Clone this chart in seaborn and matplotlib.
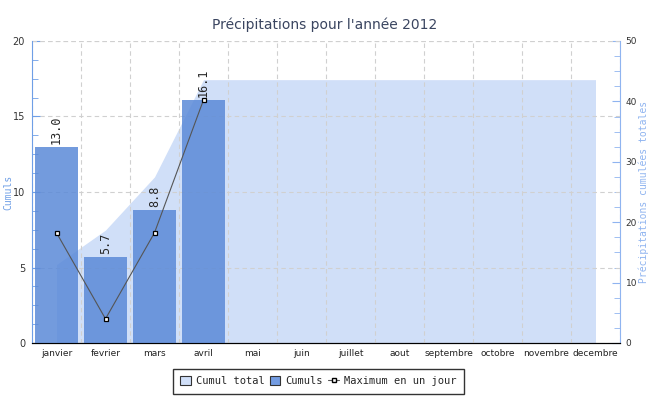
import numpy as np
import matplotlib
matplotlib.use("Agg")
import matplotlib.pyplot as plt
import seaborn as sns
from matplotlib.patches import Patch
from matplotlib.lines import Line2D
from matplotlib.ticker import MultipleLocator

# Données
mois = ["janvier", "fevrier", "mars", "avril", "mai", "juin", "juillet",
        "aout", "septembre", "octobre", "novembre", "decembre"]
cumuls = [13.0, 5.7, 8.8, 16.1, 0, 0, 0, 0, 0, 0, 0, 0]
cumul_total = [13.0, 18.7, 27.5, 43.6, 43.6, 43.6, 43.6, 43.6, 43.6, 43.6, 43.6, 43.6]
maximum_jour = [7.3, 1.6, 7.3, 16.1]

sns.set_style("white")
plt.rcParams["font.family"] = ["DejaVu Sans"]

fig = plt.figure(figsize=(6.5, 4), dpi=100)
ax = fig.add_axes([32 / 650, 57 / 400, 588 / 650, 302 / 400])
ax2 = ax.twinx()

# Cumul total (axe de droite, en arrière-plan)
x_pos = np.arange(len(mois))
ax2.fill_between(x_pos, cumul_total, color="#d0dff8", linewidth=0, zorder=1)
ax2.set_ylim(0, 50)

ax.set_zorder(ax2.get_zorder() + 1)
ax.patch.set_visible(False)

# Cumuls mensuels
sns.barplot(x=mois, y=cumuls, color="#5b8ad8", alpha=0.85, width=0.86,
            saturation=1, linewidth=0, edgecolor="none", ax=ax, zorder=2)
labels = [f"{v:.1f}" if v > 0 else "" for v in cumuls]
ax.bar_label(ax.containers[0], labels=labels, rotation=90, padding=2,
             fontsize=8.5, family="DejaVu Sans Mono")

# Maximum en un jour
sns.lineplot(x=x_pos[:len(maximum_jour)], y=maximum_jour, ax=ax, color="#555555",
             linewidth=0.8, marker="s", markersize=3.5, markerfacecolor="white",
             markeredgecolor="black", markeredgewidth=0.9, zorder=3)

ax.set_xlim(-0.5, 11.5)
ax.set_ylim(0, 20)

# Axes / graduations
ax.set_xticks(x_pos)
ax.set_xticklabels(mois)
ax.xaxis.set_minor_locator(MultipleLocator(1, offset=0.5))
ax.tick_params(axis="x", which="major", length=0, labelsize=6.5, pad=4, colors="#222222")
ax.tick_params(axis="x", which="minor", direction="in", length=6, width=1, color="black")

ax.yaxis.set_major_locator(MultipleLocator(5))
ax.yaxis.set_minor_locator(MultipleLocator(1.25))
ax.tick_params(axis="y", which="both", direction="in", color="#6f9fe6",
               labelsize=7, labelcolor="#333333", pad=5)
ax.tick_params(axis="y", which="major", length=6)
ax.tick_params(axis="y", which="minor", length=4)

ax2.yaxis.set_major_locator(MultipleLocator(10))
ax2.yaxis.set_minor_locator(MultipleLocator(2.5))
ax2.tick_params(axis="y", which="both", direction="in", color="#8fb4f0",
                labelsize=6.5, labelcolor="#333333", pad=4)
ax2.tick_params(axis="y", which="major", length=6)
ax2.tick_params(axis="y", which="minor", length=4)

ax.grid(True, axis="y", which="major", linestyle=(0, (4, 3)), color="#d0d0d0", linewidth=0.8)
ax.grid(True, axis="x", which="minor", linestyle=(0, (4, 3)), color="#d0d0d0", linewidth=0.8)
ax.axhline(20, linestyle=(0, (4, 3)), color="#d0d0d0", linewidth=0.8)
ax.set_axisbelow(True)

for a in (ax, ax2):
    a.spines["top"].set_visible(False)
    a.spines["bottom"].set_color("black")
    a.spines["left"].set_color("#6f9fe6")
    a.spines["right"].set_color("#8fb4f0")
ax.spines["right"].set_visible(False)
ax2.spines["left"].set_visible(False)

ax.set_xlabel("")
ax.set_ylabel("Cumuls", color="#6f9fe6", fontsize=7, family="DejaVu Sans Mono",
              va="center", ha="center")
ax.yaxis.set_label_coords(-0.041, 0.5)
ax2.set_ylabel("Précipitations cumulées totales", color="#8fb4f0", fontsize=7,
               family="DejaVu Sans Mono", va="center", ha="center")
ax2.yaxis.set_label_coords(1.041, 0.5)

fig.text(0.5, 0.9375, "Précipitations pour l'année 2012", ha="center", va="center",
         fontsize=10, color="#3a4560")

# Légende
handles = [
    Patch(facecolor="#d0dff8", edgecolor="#333333", linewidth=0.8),
    Patch(facecolor="#739ce2", edgecolor="#333333", linewidth=0.8),
    Line2D([0], [0], color="#555555", linewidth=0.8, marker="s", markersize=3,
           markerfacecolor="white", markeredgecolor="black"),
]
leg = fig.legend(handles, ["Cumul total", "Cumuls", "Maximum en un jour"],
                 loc="center", bbox_to_anchor=(0.49, 0.047), ncol=3,
                 prop={"family": "DejaVu Sans Mono", "size": 7.5},
                 frameon=True, fancybox=False, edgecolor="black",
                 handlelength=1.0, handleheight=1.0, handletextpad=0.5,
                 columnspacing=0.5, borderpad=0.7)
leg.get_frame().set_linewidth(1.0)

fig.savefig("out.png", dpi=100)
